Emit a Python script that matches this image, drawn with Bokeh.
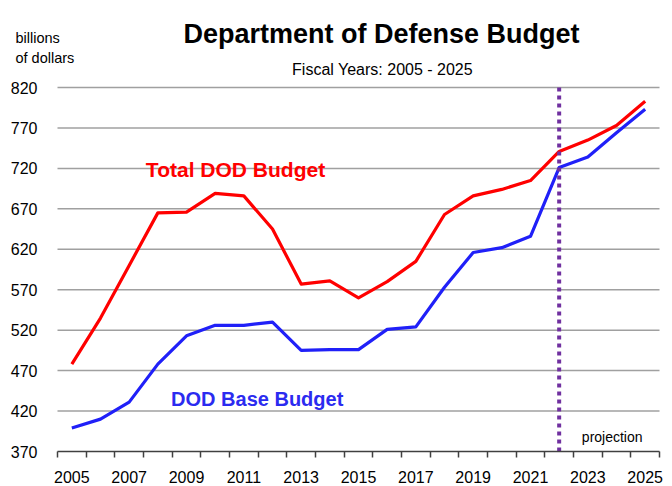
from bokeh.plotting import figure
from bokeh.models import Range1d, FixedTicker, Label
from bokeh.embed import file_html
from bokeh.resources import INLINE

# ---- data ----
years = list(range(2005, 2026))
total_budget = [478, 535, 600, 665, 666, 689, 686, 645, 577, 581, 560, 580, 605,
                663, 686, 694, 705, 741, 755, 773, 803]
base_budget = [399, 410, 431, 478, 513, 526, 526, 530, 495, 496, 496, 521, 524,
               573, 616, 622, 636, 721, 734, 764, 793]
y_ticks = [370, 420, 470, 520, 570, 620, 670, 720, 770, 820]
x_label_years = list(range(2005, 2026, 2))
projection_start = 2022

title_text = "Department of Defense Budget"
subtitle_text = "Fiscal Years: 2005 - 2025"
unit_text = ["billions", "of dollars"]

SANS = "Liberation Sans"

# ---- layout (pixels) ----
W, H = 672, 486
PLOT_L, PLOT_R, PLOT_T, PLOT_B = 57, 659, 87, 451
x_lo, x_hi = years[0] - 0.5, years[-1] + 0.5
y_lo, y_hi = y_ticks[0], y_ticks[-1]
px_per_x = (PLOT_R - PLOT_L) / (x_hi - x_lo)
px_per_y = (PLOT_B - PLOT_T) / (y_hi - y_lo)
x_start = x_lo - PLOT_L / px_per_x
x_end = x_hi + (W - PLOT_R) / px_per_x
y_start = y_lo - (H - PLOT_B) / px_per_y
y_end = y_hi + PLOT_T / px_per_y


def sx(px):
    return x_start + px / px_per_x


def sy(py):
    return y_end - py / px_per_y


p = figure(width=W, height=H, output_backend="svg", toolbar_location=None,
           x_range=Range1d(x_start, x_end), y_range=Range1d(y_start, y_end),
           min_border_left=0, min_border_right=0, min_border_top=0, min_border_bottom=0)
p.outline_line_color = None
p.background_fill_color = "white"
p.border_fill_color = "white"
p.xgrid.visible = False
p.ygrid.visible = False

# horizontal gridlines across the plotting area
grid_vals = y_ticks[1:]
p.segment(x0=[x_lo] * len(grid_vals), y0=grid_vals, x1=[x_hi] * len(grid_vals), y1=grid_vals,
          line_color="#A0A0A0", line_width=1.5)

# y axis (labels only)
p.yaxis.fixed_location = x_lo
p.yaxis.bounds = (y_lo, y_hi)
p.yaxis.ticker = FixedTicker(ticks=y_ticks)
p.yaxis.axis_line_color = None
p.yaxis.major_tick_line_color = None
p.yaxis.minor_tick_line_color = None
p.yaxis.major_label_standoff = 14
p.yaxis.major_label_text_font = SANS
p.yaxis.major_label_text_font_size = "16px"
p.yaxis.major_label_text_color = "black"

# x axis
boundaries = [y - 0.5 for y in years] + [years[-1] + 0.5]
p.xaxis.fixed_location = y_lo
p.xaxis.bounds = (x_lo, x_hi)
p.xaxis.ticker = FixedTicker(ticks=x_label_years, minor_ticks=boundaries)
p.xaxis.axis_line_color = "#404040"
p.xaxis.axis_line_width = 1.5
p.xaxis.major_tick_out = 0
p.xaxis.major_tick_in = 0
p.xaxis.minor_tick_out = 6
p.xaxis.minor_tick_in = 0
p.xaxis.minor_tick_line_color = "#404040"
p.xaxis.minor_tick_line_width = 1.5
p.xaxis.major_label_standoff = 13
p.xaxis.major_label_text_font = SANS
p.xaxis.major_label_text_font_size = "16px"
p.xaxis.major_label_text_color = "black"

# lines
p.line(years, total_budget, line_color="#FF0000", line_width=3.2, line_join="round")
p.line(years, base_budget, line_color="#2020F8", line_width=3.2, line_join="round")

# projection marker
p.segment(x0=[projection_start], y0=[y_lo], x1=[projection_start], y1=[y_hi],
          line_color="#7030A0", line_width=4, line_dash="4 4")

# in-plot labels
p.add_layout(Label(x=sx(235), y=sy(169.3), text="Total DOD Budget", text_align="center",
                   text_baseline="alphabetic", text_color="#FF0000", text_font=SANS,
                   text_font_style="bold", text_font_size="21px"))
p.add_layout(Label(x=sx(256.7), y=sy(398.3), text="DOD Base Budget", text_align="center",
                   text_baseline="alphabetic", text_color="#2B2BF0", text_font=SANS,
                   text_font_style="bold", text_font_size="20px"))
p.add_layout(Label(x=sx(611.7), y=sy(436), text="projection", text_align="center",
                   text_baseline="alphabetic", text_color="black", text_font=SANS,
                   text_font_size="14px"))

# titles
p.add_layout(Label(x=sx(381), y=sy(33.3), text=title_text,
                   text_align="center", text_baseline="alphabetic", text_color="black",
                   text_font=SANS, text_font_style="bold", text_font_size="27px"))
p.add_layout(Label(x=sx(382), y=sy(69), text=subtitle_text,
                   text_align="center", text_baseline="alphabetic", text_color="black",
                   text_font=SANS, text_font_size="16px"))
p.add_layout(Label(x=sx(15), y=sy(37), text=unit_text[0],
                   text_align="left", text_baseline="alphabetic", text_color="black",
                   text_font=SANS, text_font_size="14.5px"))
p.add_layout(Label(x=sx(15), y=sy(57), text=unit_text[1],
                   text_align="left", text_baseline="alphabetic", text_color="black",
                   text_font=SANS, text_font_size="14.5px"))

open("out.html", "w").write(file_html(p, INLINE))
